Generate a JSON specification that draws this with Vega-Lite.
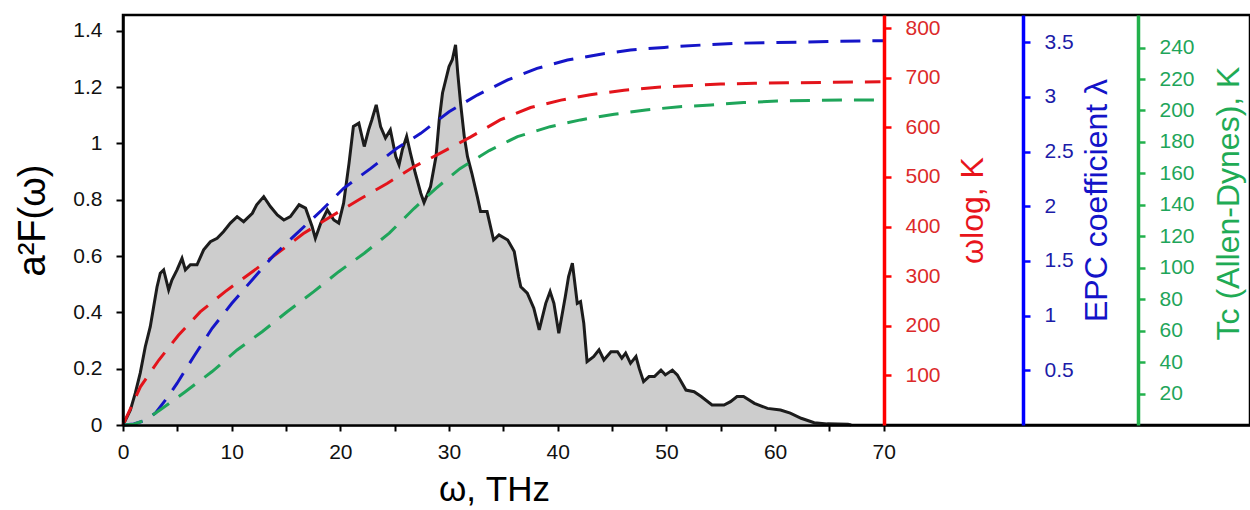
{
  "$schema": "https://vega.github.io/schema/vega-lite/v6.json",
  "width": 1127,
  "height": 410,
  "autosize": {"type": "none"},
  "padding": {"left": 123, "top": 15, "right": 0, "bottom": 85},
  "background": "white",
  "config": {
    "view": {"stroke": "#000", "strokeWidth": 2.5},
    "font": "Liberation Sans",
    "axis": {"grid": false, "labelFont": "Liberation Sans", "titleFont": "Liberation Sans", "titleFontWeight": "normal", "labelFlush": false, "labelOverlap": false, "labelFontSize": 21}
  },
  "datasets": {
    "a2f": [
      {"w":0,"v":0},{"w":0.68,"v":0.053},{"w":1.13,"v":0.113},{"w":1.59,"v":0.185},{"w":2.05,"v":0.278},{"w":2.51,"v":0.349},{"w":2.82,"v":0.42},{"w":3.13,"v":0.49},{"w":3.43,"v":0.539},{"w":3.74,"v":0.551},{"w":4.2,"v":0.48},{"w":4.5,"v":0.515},{"w":4.97,"v":0.551},{"w":5.43,"v":0.592},{"w":5.74,"v":0.551},{"w":6.2,"v":0.569},{"w":6.81,"v":0.569},{"w":7.42,"v":0.622},{"w":8.04,"v":0.651},{"w":8.66,"v":0.663},{"w":9.26,"v":0.687},{"w":9.88,"v":0.717},{"w":10.5,"v":0.74},{"w":11.1,"v":0.722},{"w":11.9,"v":0.752},{"w":12.3,"v":0.782},{"w":12.95,"v":0.811},{"w":13.56,"v":0.776},{"w":14.2,"v":0.746},{"w":14.8,"v":0.728},{"w":15.4,"v":0.74},{"w":16.2,"v":0.782},{"w":16.8,"v":0.77},{"w":17.4,"v":0.705},{"w":17.7,"v":0.663},{"w":18.2,"v":0.717},{"w":18.8,"v":0.764},{"w":19.4,"v":0.728},{"w":19.85,"v":0.717},{"w":20.3,"v":0.788},{"w":20.8,"v":0.93},{"w":21.2,"v":1.06},{"w":21.7,"v":1.072},{"w":22.2,"v":0.989},{"w":22.6,"v":1.048},{"w":22.9,"v":1.084},{"w":23.3,"v":1.137},{"w":23.7,"v":1.06},{"w":24.15,"v":1.019},{"w":24.6,"v":1.048},{"w":25.1,"v":0.953},{"w":25.4,"v":0.924},{"w":25.7,"v":0.977},{"w":26.1,"v":1.025},{"w":26.45,"v":0.965},{"w":26.9,"v":0.894},{"w":27.4,"v":0.823},{"w":27.7,"v":0.79},{"w":28.3,"v":0.847},{"w":28.8,"v":0.953},{"w":29.1,"v":1.084},{"w":29.4,"v":1.179},{"w":29.7,"v":1.226},{"w":30.0,"v":1.273},{"w":30.3,"v":1.297},{"w":30.6,"v":1.35},{"w":30.8,"v":1.25},{"w":31.06,"v":1.143},{"w":31.4,"v":1.025},{"w":31.7,"v":0.953},{"w":32.1,"v":0.894},{"w":32.6,"v":0.811},{"w":32.9,"v":0.758},{"w":33.5,"v":0.758},{"w":34.1,"v":0.657},{"w":34.6,"v":0.675},{"w":35.4,"v":0.657},{"w":36.0,"v":0.616},{"w":36.4,"v":0.527},{"w":36.6,"v":0.491},{"w":37.2,"v":0.468},{"w":37.8,"v":0.415},{"w":38.3,"v":0.338},{"w":38.9,"v":0.432},{"w":39.3,"v":0.474},{"w":39.65,"v":0.432},{"w":40.1,"v":0.326},{"w":40.7,"v":0.456},{"w":41.0,"v":0.527},{"w":41.35,"v":0.575},{"w":41.65,"v":0.48},{"w":41.8,"v":0.432},{"w":42.1,"v":0.438},{"w":42.4,"v":0.361},{"w":42.7,"v":0.225},{"w":43.3,"v":0.243},{"w":43.8,"v":0.267},{"w":44.25,"v":0.231},{"w":44.9,"v":0.26},{"w":45.5,"v":0.26},{"w":45.9,"v":0.237},{"w":46.25,"v":0.255},{"w":46.7,"v":0.219},{"w":47.2,"v":0.243},{"w":47.5,"v":0.201},{"w":47.9,"v":0.154},{"w":48.4,"v":0.172},{"w":48.9,"v":0.172},{"w":49.5,"v":0.195},{"w":49.9,"v":0.178},{"w":50.55,"v":0.195},{"w":51.0,"v":0.178},{"w":51.8,"v":0.124},{"w":52.55,"v":0.118},{"w":53.2,"v":0.101},{"w":54.2,"v":0.071},{"w":55.3,"v":0.071},{"w":55.9,"v":0.083},{"w":56.5,"v":0.101},{"w":57.1,"v":0.101},{"w":58.1,"v":0.077},{"w":59.3,"v":0.059},{"w":60.5,"v":0.053},{"w":61.4,"v":0.042},{"w":62.4,"v":0.024},{"w":63.6,"v":0.008},{"w":64.8,"v":0.004},{"w":66.7,"v":0.003},{"w":67,"v":0}
    ],
    "wlog": [
      {"w":0,"t":0},{"w":0.2,"t":10},{"w":1.6,"t":77},{"w":3.3,"t":131},{"w":5.1,"t":181},{"w":7.1,"t":228},{"w":9.4,"t":269},{"w":11.9,"t":309},{"w":14.2,"t":346},{"w":16.6,"t":386},{"w":19.1,"t":420},{"w":21.7,"t":454},{"w":24.3,"t":487},{"w":26.8,"t":521},{"w":29.2,"t":548},{"w":32,"t":581},{"w":34.7,"t":615},{"w":37.5,"t":640},{"w":40.3,"t":655},{"w":43,"t":666},{"w":46.1,"t":675},{"w":49.2,"t":681},{"w":51.9,"t":684},{"w":55,"t":687.5},{"w":58.1,"t":689},{"w":61.1,"t":690},{"w":64.2,"t":690.5},{"w":67.3,"t":691.5},{"w":69.7,"t":692}
    ],
    "lambda": [
      {"w":0,"l":0},{"w":1,"l":0.01},{"w":2,"l":0.04},{"w":3,"l":0.11},{"w":4,"l":0.24},{"w":4.97,"l":0.38},{"w":6.5,"l":0.624},{"w":8.2,"l":0.884},{"w":10,"l":1.11},{"w":12,"l":1.34},{"w":13.9,"l":1.554},{"w":16,"l":1.752},{"w":18.3,"l":1.965},{"w":20.3,"l":2.164},{"w":22.8,"l":2.346},{"w":25.2,"l":2.53},{"w":27.4,"l":2.666},{"w":30,"l":2.864},{"w":32.6,"l":3.016},{"w":35.4,"l":3.154},{"w":38.1,"l":3.26},{"w":40.9,"l":3.336},{"w":43.95,"l":3.39},{"w":46.7,"l":3.428},{"w":49.8,"l":3.452},{"w":53.2,"l":3.473},{"w":56.2,"l":3.489},{"w":59.3,"l":3.495},{"w":62.4,"l":3.5},{"w":65.4,"l":3.507},{"w":70,"l":3.513}
    ],
    "tc": [
      {"w":0,"c":0},{"w":1,"c":0.5},{"w":2,"c":3},{"w":3.4,"c":9.5},{"w":5.7,"c":21},{"w":8.2,"c":34},{"w":10.5,"c":47.7},{"w":12.8,"c":59.3},{"w":15.1,"c":72},{"w":17.55,"c":84.8},{"w":19.85,"c":97.5},{"w":22.2,"c":109.2},{"w":24.5,"c":122},{"w":26.8,"c":137.8},{"w":28.8,"c":150.5},{"w":31,"c":163},{"w":33.7,"c":174.5},{"w":36.3,"c":183.4},{"w":39.3,"c":189.7},{"w":42.1,"c":194},{"w":45.2,"c":197.6},{"w":48.1,"c":200.3},{"w":51.2,"c":202.4},{"w":54.1,"c":203.5},{"w":57.1,"c":205},{"w":60.2,"c":206},{"w":63.3,"c":206.3},{"w":66.4,"c":206.7},{"w":69.6,"c":206.7}
    ]
  },
  "encoding": {
    "x": {
      "field": "w", "type": "quantitative",
      "scale": {"domain": [0, 103.7], "nice": false, "zero": true},
      "axis": {
        "values": [0,5,10,15,20,25,30,35,40,45,50,55,60,65,70],
        "labelExpr": "datum.value % 10 === 0 ? datum.label : ''",
        "title": "ω, THz", "titleFontSize": 35, "titleColor": "#000",
        "titleX": 371, "titleY": 75, "titleBaseline": "alphabetic", "titleAlign": "center",
        "domainColor": "#000", "domainWidth": 2.5, "tickColor": "#000", "tickWidth": 2, "tickSize": 6,
        "labelColor": "#111", "labelPadding": 10, "zindex": 1
      }
    }
  },
  "layer": [
    {
      "data": {"name": "a2f"},
      "mark": {"type": "area", "color": "#cdcdcd", "opacity": 1, "fillOpacity": 1, "line": {"color": "#1c1c1c", "strokeWidth": 3}},
      "encoding": {
        "y": {
          "field": "v", "type": "quantitative",
          "scale": {"domain": [0, 1.456], "nice": false},
          "axis": {
            "values": [0,0.2,0.4,0.6,0.8,1,1.2,1.4], "format": "~g",
            "title": "a²F(ω)", "titleFontSize": 38, "titleColor": "#000", "titlePadding": 20,
            "domainColor": "#000", "domainWidth": 2.5, "tickColor": "#000", "tickWidth": 2, "tickSize": 7,
            "labelColor": "#111", "labelPadding": 14, "zindex": 1
          }
        }
      }
    },
    {
      "data": {"name": "wlog"},
      "mark": {"type": "line", "color": "#e3141b", "strokeWidth": 3, "strokeDash": [20, 12]},
      "encoding": {
        "y": {
          "field": "t", "type": "quantitative",
          "scale": {"domain": [0, 826.6], "nice": false},
          "axis": {
            "orient": "right", "offset": -366,
            "values": [100,200,300,400,500,600,700,800],
            "title": "ωlog, K", "titleFontSize": 32, "titleColor": "#e8141b",
            "titleAngle": 270, "titleX": 88, "titleY": 195, "titleAlign": "center", "titleBaseline": "middle",
            "domainColor": "#ff0000", "domainWidth": 3.5, "tickColor": "#ff0000", "tickWidth": 2.5, "tickSize": 7,
            "labelColor": "#dc2a2a", "labelPadding": 14, "zindex": 2
          }
        }
      }
    },
    {
      "data": {"name": "lambda"},
      "mark": {"type": "line", "color": "#1515c8", "strokeWidth": 3, "strokeDash": [20, 12]},
      "encoding": {
        "y": {
          "field": "l", "type": "quantitative",
          "scale": {"domain": [0, 3.748], "nice": false},
          "axis": {
            "orient": "right", "offset": -227,
            "values": [0.5,1,1.5,2,2.5,3,3.5], "format": "~g",
            "title": "EPC coefficient λ", "titleFontSize": 32, "titleColor": "#1414c8",
            "titleAngle": 270, "titleX": 73, "titleY": 185, "titleAlign": "center", "titleBaseline": "middle",
            "domainColor": "#0000ff", "domainWidth": 3.5, "tickColor": "#0000ff", "tickWidth": 2.5, "tickSize": 7,
            "labelColor": "#1c1ca8", "labelPadding": 14, "zindex": 2
          }
        }
      }
    },
    {
      "data": {"name": "tc"},
      "mark": {"type": "line", "color": "#1fa55a", "strokeWidth": 3, "strokeDash": [20, 12]},
      "encoding": {
        "y": {
          "field": "c", "type": "quantitative",
          "scale": {"domain": [0, 260.7], "nice": false},
          "axis": {
            "orient": "right", "offset": -112,
            "values": [20,40,60,80,100,120,140,160,180,200,220,240],
            "title": "Tc (Allen-Dynes), K", "titleFontSize": 32, "titleColor": "#1fab55",
            "titleAngle": 270, "titleX": 90, "titleY": 188, "titleAlign": "center", "titleBaseline": "middle",
            "domainColor": "#22b14c", "domainWidth": 3.5, "tickColor": "#22b14c", "tickWidth": 2.5, "tickSize": 7,
            "labelColor": "#1fa55a", "labelPadding": 14, "zindex": 2
          }
        }
      }
    }
  ],
  "resolve": {"scale": {"y": "independent"}, "axis": {"y": "independent"}}
}
